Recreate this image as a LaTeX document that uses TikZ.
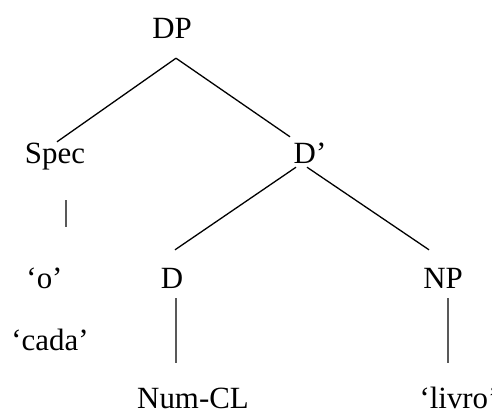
\documentclass[tikz,border=0pt]{standalone}
\usepackage{fontspec}
\setmainfont{Liberation Serif}
\begin{document}
\begin{tikzpicture}[x=1bp,y=-1bp,
  lbl/.style={inner sep=0pt, text height=21bp, text depth=7bp, anchor=base,
    font=\fontsize{31}{37}\selectfont},
  edge/.style={line width=1.3bp, line cap=butt}]
\useasboundingbox (0,0) rectangle (492,414);
\node[lbl] (dp) at (172,38) {DP};
\node[lbl] (spec) at (55,163) {Spec};
\node[lbl] (dbar) at (310,163) {D’};
\node[lbl] (o) at (44.5,288) {‘o’};
\node[lbl] (d) at (172,288) {D};
\node[lbl] (np) at (443,288) {NP};
\node[lbl] (cada) at (50,350) {‘cada’};
\node[lbl] (numcl) at (193,408) {Num-CL};
\node[lbl] (livro) at (459,408) {‘livro’};
\draw[edge] ([xshift=4bp,yshift=-13bp]dp.south) -- ([xshift=2bp]spec.north);
\draw[edge] ([xshift=4bp,yshift=-13bp]dp.south) -- ([xshift=-20bp,yshift=5bp]dbar.north);
\draw[edge] ([xshift=-14bp,yshift=3bp]dbar.south) -- ([xshift=3bp,yshift=17bp]d.north);
\draw[edge] ([xshift=-3bp,yshift=3bp]dbar.south) -- ([xshift=-14bp,yshift=17bp]np.north);
\draw[edge] ([xshift=11bp,yshift=-30bp]spec.south) -- ([xshift=21.5bp,yshift=40bp]o.north);
\draw[edge] ([xshift=4bp,yshift=-3bp]d.south) -- ([xshift=-17bp,yshift=24bp]numcl.north);
\draw[edge] ([xshift=5bp,yshift=-3bp]np.south) -- ([xshift=-11bp,yshift=24bp]livro.north);
\end{tikzpicture}
\end{document}
